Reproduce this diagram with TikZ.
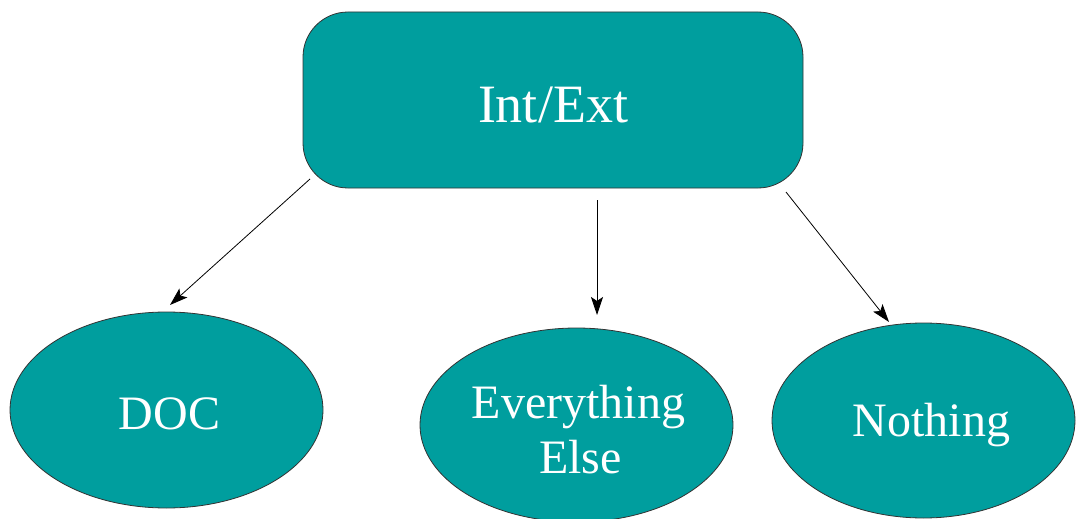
\documentclass[tikz,border=0pt]{standalone}
\usepackage{fontspec}
\setmainfont{Liberation Serif}
\usetikzlibrary{arrows.meta,shapes.geometric}
\definecolor{teal1}{RGB}{0,158,158}
\newcommand{\lowr}[2]{\raisebox{-#1}[\height][\depth]{#2}}
\begin{document}
\begin{tikzpicture}[x=1pt,y=-1pt,
  box/.style={draw=black!80, line width=0.8pt, fill=teal1, rounded corners=45pt,
    minimum width=500pt, minimum height=176pt, inner sep=0pt, text=white,
    font=\fontsize{54}{60}\selectfont},
  oval/.style={draw=black!80, line width=0.8pt, fill=teal1, ellipse, inner sep=0pt,
    text=white, align=center, font=\fontsize{48}{55}\selectfont},
  arr/.style={line width=0.8pt, -{Stealth[length=18pt,width=12pt,inset=4pt]}}]
\useasboundingbox (0,0) rectangle (1077,519);
\node[box] (top) at (553,100) {\lowr{5pt}{Int/Ext}};
\node[oval, minimum width=313pt, minimum height=196pt] (doc) at (166.5,410) {\hspace*{6pt}\lowr{4pt}{DOC}};
\node[oval, minimum width=313pt, minimum height=194pt] (else) at (576.5,425) {\hspace*{4pt}\lowr{5pt}{Everything}\\\hspace*{8pt}\lowr{5pt}{Else}};
\node[oval, minimum width=303pt, minimum height=195pt] (nothing) at (923.5,420.5) {\hspace*{16pt}\lowr{5pt}{Nothing}};
\coordinate (s1) at (310,179);
\coordinate (e1) at (170,305);
\coordinate (s2) at (597,200);
\coordinate (e2) at (597,315);
\coordinate (s3) at (786,192);
\coordinate (e3) at (889,322);
\draw[arr] (s1) -- (e1);
\draw[arr] (s2) -- (e2);
\draw[arr] (s3) -- (e3);
\end{tikzpicture}
\end{document}
